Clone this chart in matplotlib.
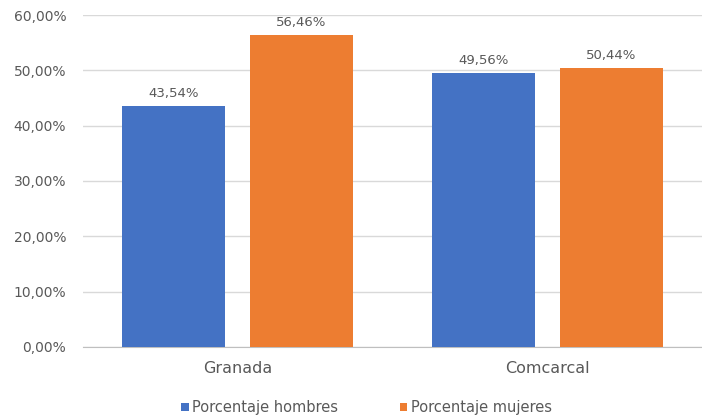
import matplotlib
matplotlib.use("Agg")
import matplotlib.pyplot as plt
import numpy as np

categories = ["Granada", "Comcarcal"]
hombres = [43.54, 49.56]
mujeres = [56.46, 50.44]
series_labels = ["Porcentaje hombres", "Porcentaje mujeres"]
yticks = [0, 10, 20, 30, 40, 50, 60]

BLUE = "#4472C4"
ORANGE = "#ED7D31"
TEXT = "#595959"


def pct(v):
    return f"{v:.2f}%".replace(".", ",")


plt.rcParams["font.family"] = ["DejaVu Sans"]

fig = plt.figure(figsize=(7.02, 4.17), dpi=100)
ax = fig.add_axes([0.118, 0.168, 0.882, 0.796])

x = np.arange(len(categories))
width = 0.333
gap = 0.04
b1 = ax.bar(x - width / 2 - gap, hombres, width, color=BLUE, label=series_labels[0], zorder=3)
b2 = ax.bar(x + width / 2 + gap, mujeres, width, color=ORANGE, label=series_labels[1], zorder=3)

for bars, vals in ((b1, hombres), (b2, mujeres)):
    for bar, v in zip(bars, vals):
        ax.text(bar.get_x() + bar.get_width() / 2, v + 1.1, pct(v),
                ha="center", va="bottom", fontsize=9.5, color=TEXT)

ax.set_xlim(-0.5, 1.5)
ax.set_ylim(0, 60)
ax.set_yticks(yticks)
ax.set_yticklabels([pct(t) for t in yticks], fontsize=10, color=TEXT)
ax.set_xticks(x)
ax.set_xticklabels(categories, fontsize=11.5, color=TEXT)
ax.tick_params(axis="y", length=0, pad=12)
ax.tick_params(axis="x", length=0, pad=10)

ax.grid(axis="y", color="#D9D9D9", linewidth=1, zorder=0)
for side in ("top", "right", "left"):
    ax.spines[side].set_visible(False)
ax.spines["bottom"].set_color("#BFBFBF")

leg = fig.legend(handles=[b1, b2], labels=series_labels, loc="lower center",
                 bbox_to_anchor=(0.522, -0.027), ncol=2, frameon=False, fontsize=10.5,
                 handlelength=0.5, handleheight=0.5, handletextpad=0.25, columnspacing=4.2)
for t in leg.get_texts():
    t.set_color(TEXT)

fig.savefig("out.png", dpi=100)
